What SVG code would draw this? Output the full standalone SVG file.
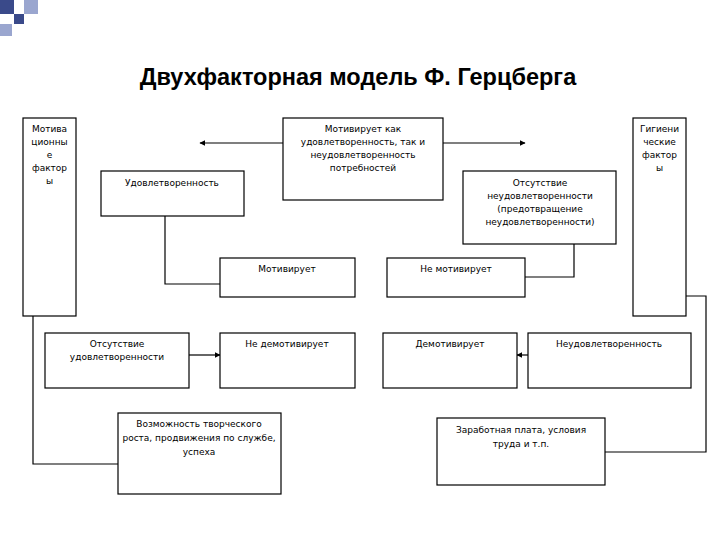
<svg xmlns="http://www.w3.org/2000/svg" width="720" height="540" viewBox="0 0 720 540">
<defs>
<style>
.b{fill:#fff;stroke:#000;stroke-width:1.2}
.t{font-family:"DejaVu Sans",sans-serif;font-size:9px;fill:#000;text-anchor:middle}
.l{fill:none;stroke:#000;stroke-width:1.2}
</style>
<marker id="a" viewBox="0 0 10 10" refX="9" refY="5" markerWidth="5" markerHeight="5" orient="auto"><path d="M0,0L10,5L0,10z"/></marker>
</defs>
<rect width="720" height="540" fill="#fff"/>
<rect x="0" y="0" width="14" height="14" fill="#3a4a8a"/>
<rect x="14" y="14" width="10" height="10" fill="#3a4a8a"/>
<rect x="24" y="0" width="14" height="14" fill="#9aa6cf"/>
<rect x="0" y="24" width="12" height="12" fill="#9aa6cf"/>
<text x="358" y="85" font-family="Liberation Sans,sans-serif" font-size="23.5" font-weight="bold" text-anchor="middle">Двухфакторная модель Ф. Герцберга</text>
<g id="conn">
<path class="l" d="M283,143H200" marker-end="url(#a)"/>
<path class="l" d="M443,143H525" marker-end="url(#a)"/>
<path class="l" d="M165,216V284H220"/>
<path class="l" d="M574,244V277H525"/>
<path class="l" stroke-width="2" d="M189,355H220" marker-end="url(#a)"/>
<path class="l" stroke-width="2" d="M528,355H517" marker-end="url(#a)"/>
<path class="l" d="M33,316V464H118"/>
<path class="l" d="M686,296H706V452H605"/>
</g>
<g id="mot"><rect class="b" x="23" y="118" width="53" height="198"/>
<text class="t" x="49.5" y="132">Мотива</text><text class="t" x="49.5" y="145">ционны</text><text class="t" x="49.5" y="158">е</text><text class="t" x="49.5" y="171">фактор</text><text class="t" x="49.5" y="184">ы</text></g>
<g id="hyg"><rect class="b" x="633" y="118" width="53" height="198"/>
<text class="t" x="659.5" y="132">Гигиени</text><text class="t" x="659.5" y="145">ческие</text><text class="t" x="659.5" y="158">фактор</text><text class="t" x="659.5" y="171">ы</text></g>
<g id="top"><rect class="b" x="283" y="118" width="160" height="82"/>
<text class="t" x="363" y="132">Мотивирует как</text><text class="t" x="363" y="145">удовлетворенность, так и</text><text class="t" x="363" y="158">неудовлетворенность</text><text class="t" x="363" y="171">потребностей</text></g>
<g id="udov"><rect class="b" x="101" y="171" width="143" height="45"/>
<text class="t" x="172" y="186">Удовлетворенность</text></g>
<g id="otsneud"><rect class="b" x="463" y="171" width="153" height="73"/>
<text class="t" x="540" y="186">Отсутствие</text><text class="t" x="540" y="199">неудовлетворенности</text><text class="t" x="540" y="212">(предотвращение</text><text class="t" x="540" y="225">неудовлетворенности)</text></g>
<g id="motiv"><rect class="b" x="220" y="258" width="135" height="39"/>
<text class="t" x="287" y="272">Мотивирует</text></g>
<g id="nemotiv"><rect class="b" x="387" y="258" width="138" height="39"/>
<text class="t" x="456" y="272">Не мотивирует</text></g>
<g id="otsudov"><rect class="b" x="45" y="333" width="144" height="55"/>
<text class="t" x="117" y="347">Отсутствие</text><text class="t" x="117" y="360">удовлетворенности</text></g>
<g id="nedem"><rect class="b" x="220" y="333" width="135" height="55"/>
<text class="t" x="287" y="347">Не демотивирует</text></g>
<g id="dem"><rect class="b" x="383" y="333" width="134" height="55"/>
<text class="t" x="450" y="347">Демотивирует</text></g>
<g id="neudov"><rect class="b" x="528" y="333" width="163" height="55"/>
<text class="t" x="609" y="347">Неудовлетворенность</text></g>
<g id="vozm"><rect class="b" x="118" y="413" width="163" height="81"/>
<text class="t" x="199" y="427">Возможность творческого</text><text class="t" x="199" y="441">роста, продвижения по службе,</text><text class="t" x="199" y="455">успеха</text></g>
<g id="zarab"><rect class="b" x="437" y="418" width="168" height="67"/>
<text class="t" x="521" y="433">Заработная плата, условия</text><text class="t" x="521" y="447">труда и т.п.</text></g>
</svg>
